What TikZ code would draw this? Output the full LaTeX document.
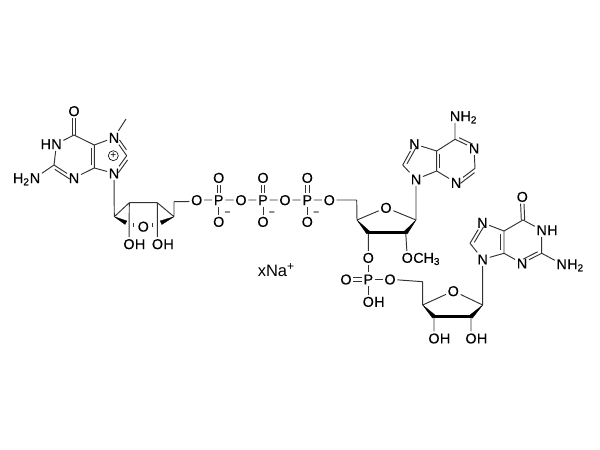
\documentclass[tikz,border=0pt]{standalone}
\usepackage{fontspec}
\setmainfont{Liberation Sans}[RawFeature={embolden=0.3}]
\newfontfamily\plainfont{Liberation Sans}
\usetikzlibrary{calc}
\tikzset{
  x=1pt,y=-1pt,
  atom/.style={inner sep=1.6pt,font=\fontsize{14.3}{14.3}\selectfont,text height=10.2pt,text depth=0pt,minimum size=0pt},
  suf/.style={inner sep=0pt,font=\fontsize{14.3}{14.3}\selectfont,text height=10.2pt,text depth=0pt},
  bond/.style={line width=0.95pt,black!80},
  wedge/.style={fill=black,draw=black,line width=0.3pt,line join=round},
  heavy/.style={line width=3.2pt,black,line cap=round},
}
\newcommand{\dbl}[3]{\draw[bond,shorten <=#3,shorten >=#3] ($(#1)!3.2pt!90:(#2)$) -- ($(#2)!3.2pt!-90:(#1)$);}
\newcommand{\dbr}[3]{\draw[bond,shorten <=#3,shorten >=#3] ($(#1)!3.2pt!-90:(#2)$) -- ($(#2)!3.2pt!90:(#1)$);}
\newcommand{\wdg}[2]{\fill[wedge] (#1) -- ($(#2)!2pt!90:(#1)$) -- ($(#2)!2pt!-90:(#1)$) -- cycle;}
\begin{document}
\begin{tikzpicture}
\useasboundingbox (0,0) rectangle (600,450);
% left guanine
\node[atom] (aO) at (74,111) {O};
\coordinate (aC6) at (74,135);
\node[atom] (aN1) at (56.5,144) {N};
\node[suf,anchor=east] (aN1H) at ([xshift=1.6pt]aN1.west) {H};
\coordinate (aC2) at (54,165);
\node[atom] (aN3) at (74,178) {N};
\node[atom] (aNH) at (35,178) {N};
\node[suf,anchor=east] (aH2) at ([xshift=1.6pt]aNH.west) {H$_{\mathrm{2}}$};
\coordinate (aC4) at (94.3,168);
\coordinate (aC5) at (94.3,145);
\node[atom] (aN7) at (114,137.7) {N};
\coordinate (aC8) at (126.7,155.7);
\node[atom] (aN9) at (114,173.3) {N};
\coordinate (aMe) at (126,119);
\node[circle,draw,line width=0.6pt,inner sep=0pt,minimum size=10pt,font=\plainfont\fontsize{10}{10}\selectfont] (aCh) at (113.3,155.7) {+};
\draw[bond] (aC6) -- (aN1) (aN1) -- (aC2) (aC2) -- (aNH) (aC2) -- (aN3) (aN3) -- (aC4) (aC4) -- (aC5) (aC5) -- (aC6)
  (aC5) -- (aN7) (aN7) -- (aC8) (aC8) -- (aN9) (aN9) -- (aC4) (aN7) -- (aMe);
\draw[bond] ($(aC6)+(-1.7,0)$) -- ($(aO.south)+(-1.7,0)$) ($(aC6)+(1.7,0)$) -- ($(aO.south)+(1.7,0)$);
\dbr{aC2}{aN3}{3pt}
\dbl{aC4}{aC5}{3pt}
\dbl{aN7}{aC8}{5pt}
\dbl{aC8}{aN9}{3pt}
% cage sugar
\coordinate (bC1) at (114.3,216.7);
\coordinate (bC2) at (129.3,202.7);
\coordinate (bC3) at (157.3,202.7);
\coordinate (bC4) at (174,216.7);
\coordinate (bW1) at (126,222.7);
\coordinate (bW2) at (161,222.7);
\coordinate (bC5) at (174,201.7);
\node[atom] (bO) at (143.3,226.5) {O};
\node[atom] (bOa) at (129,244) {O};
\node[suf,anchor=west] at ([xshift=-1.6pt]bOa.east) {H};
\node[atom] (bOb) at (157.5,244) {O};
\node[suf,anchor=west] at ([xshift=-1.6pt]bOb.east) {H};
\draw[bond] (aN9) -- (bC1) (bC1) -- (bC2) (bC2) -- (bC3) (bC3) -- (bC4) (bC4) -- (bC5)
  (bC2) -- (bOa) (bC3) -- (bOb);
\wdg{bC1}{bW1}
\wdg{bC4}{bW2}
\draw[bond,line width=1.3pt] (133.8,223) -- (133.8,227) (152.5,223) -- (152.5,227);
% phosphate chain
\node[atom] (cO1) at (196.7,200) {O};
\node[atom] (cP1) at (218.7,200) {P};
\node[atom] (cO2) at (241,200) {O};
\node[atom] (cP2) at (263,200) {P};
\node[atom] (cO3) at (285,200) {O};
\node[atom] (cP3) at (307.3,200) {P};
\node[atom] (cO4) at (329.3,200) {O};
\foreach \p/\x in {1/218.7,2/263,3/307.3}{
  \node[atom] (cT\p) at (\x,177.7) {O};
  \node[atom] (cB\p) at (\x,221.7) {O};
  \node[inner sep=0pt,font=\fontsize{10}{10}\selectfont] at (\x+8.8,213.5) {−};
  \draw[bond] (cP\p) -- (cB\p);
  \draw[bond] ($(cP\p.north)+(-1.7,0)$) -- ($(cT\p.south)+(-1.7,0)$) ($(cP\p.north)+(1.7,0)$) -- ($(cT\p.south)+(1.7,0)$);
}
\coordinate (dC5) at (356.7,200);
\draw[bond] (bC5) -- (186.7,201.7) coordinate (bC6) -- (cO1) (cO1) -- (cP1) (cP1) -- (cO2) (cO2) -- (cP2) (cP2) -- (cO3) (cO3) -- (cP3) (cP3) -- (cO4) (cO4) -- (dC5);
% middle sugar + adenine
\node[atom] (dO) at (386,207.7) {O};
\coordinate (dC1) at (416,220);
\coordinate (dC4) at (357,220);
\coordinate (dC3) at (368.3,232.7);
\coordinate (dC2) at (405.7,232.7);
\node[atom] (dO3) at (368.3,257.7) {O};
\node[atom] (dOm) at (407.3,257.7) {O};
\node[suf,anchor=west] at ([xshift=-1.6pt]dOm.east) {CH$_{\mathrm{3}}$};
\draw[bond] (dC5) -- (dC4) (dC4) -- (dO) (dO) -- (dC1) (dC3) -- (dO3) (dC2) -- (dOm);
\wdg{dC4}{dC3}
\wdg{dC1}{dC2}
\draw[heavy] (dC3) -- (dC2);
\node[atom] (eN) at (455,116) {N};
\node[suf,anchor=west] at ([xshift=-1.6pt]eN.east) {H$_{\mathrm{2}}$};
\coordinate (eC6) at (455,139.3);
\node[atom] (eN1) at (474,148.3) {N};
\coordinate (eC2) at (475,168.3);
\node[atom] (eN3) at (456,182.7) {N};
\coordinate (eC4) at (436.7,171);
\coordinate (eC5) at (436.7,151);
\node[atom] (eN7) at (414.3,144) {N};
\coordinate (eC8) at (402.7,165);
\node[atom] (eN9) at (416,179.3) {N};
\draw[bond] (eN) -- (eC6) (eC6) -- (eN1) (eN1) -- (eC2) (eC2) -- (eN3) (eN3) -- (eC4) (eC4) -- (eC5) (eC5) -- (eC6)
  (eC5) -- (eN7) (eN7) -- (eC8) (eC8) -- (eN9) (eN9) -- (eC4) (eN9) -- (dC1);
\dbl{eC6}{eN1}{3pt}
\dbl{eC2}{eN3}{3pt}
\dbr{eC4}{eC5}{3pt}
\dbr{eC8}{eN7}{3pt}
% phosphodiester
\node[atom] (fP) at (368.3,279.3) {P};
\node[atom] (fO1) at (346,279.3) {O};
\node[atom] (fO2) at (390,279.3) {O};
\node[atom] (fO3) at (368.3,301.7) {O};
\node[suf,anchor=west] at ([xshift=-1.6pt]fO3.east) {H};
\draw[bond] (dO3) -- (fP) (fP) -- (fO2) (fP) -- (fO3);
\draw[bond] ($(fP.west)+(0,-1.7)$) -- ($(fO1.east)+(0,-1.7)$) ($(fP.west)+(0,1.7)$) -- ($(fO1.east)+(0,1.7)$);
% lower sugar + guanine
\coordinate (gC5) at (422.7,281.7);
\coordinate (gC4) at (422.7,305);
\node[atom] (gO) at (453.3,291) {O};
\coordinate (gC1) at (482.7,305);
\coordinate (gC3) at (434,316.7);
\coordinate (gC2) at (471,316.7);
\node[atom] (gO3) at (434,338.3) {O};
\node[suf,anchor=west] at ([xshift=-1.6pt]gO3.east) {H};
\node[atom] (gO2) at (471,338.3) {O};
\node[suf,anchor=west] at ([xshift=-1.6pt]gO2.east) {H};
\draw[bond] (fO2) -- (gC5) (gC5) -- (gC4) (gC4) -- (gO) (gO) -- (gC1) (gC3) -- (gO3) (gC2) -- (gO2);
\wdg{gC4}{gC3}
\wdg{gC1}{gC2}
\draw[heavy] (gC3) -- (gC2);
\node[atom] (hN9) at (482.7,259.3) {N};
\coordinate (hC8) at (470,243.3);
\node[atom] (hN7) at (482.3,222.7) {N};
\coordinate (hC5) at (504,231);
\coordinate (hC4) at (504,253.3);
\node[atom] (hN3) at (522,263.3) {N};
\coordinate (hC2) at (541.7,253.3);
\node[atom] (hN1) at (541.7,230) {N};
\node[suf,anchor=west] at ([xshift=-1.6pt]hN1.east) {H};
\coordinate (hC6) at (523,220);
\node[atom] (hO) at (522.3,196.7) {O};
\node[atom] (hN) at (561.7,264) {N};
\node[suf,anchor=west] at ([xshift=-1.6pt]hN.east) {H$_{\mathrm{2}}$};
\draw[bond] (hN9) -- (gC1) (hN9) -- (hC8) (hC8) -- (hN7) (hN7) -- (hC5) (hC5) -- (hC4) (hC4) -- (hN9) (hC4) -- (hN3) (hN3) -- (hC2) (hC2) -- (hN1) (hN1) -- (hC6) (hC6) -- (hC5) (hC2) -- (hN);
\draw[bond] ($(hC6)+(-1.7,0)$) -- ($(hO.south)+(-1.7,0)$) ($(hC6)+(1.7,0)$) -- ($(hO.south)+(1.7,0)$);
\dbr{hC5}{hC4}{3pt}
\dbr{hC8}{hN7}{3pt}
\dbl{hN3}{hC2}{3pt}
% counter-ion
\node[inner sep=0pt,font=\plainfont\fontsize{16.5}{16.5}\selectfont] (na) at (276,270) {xNa\raisebox{5.5pt}{\fontsize{12}{12}\selectfont +}};
\end{tikzpicture}
\end{document}
